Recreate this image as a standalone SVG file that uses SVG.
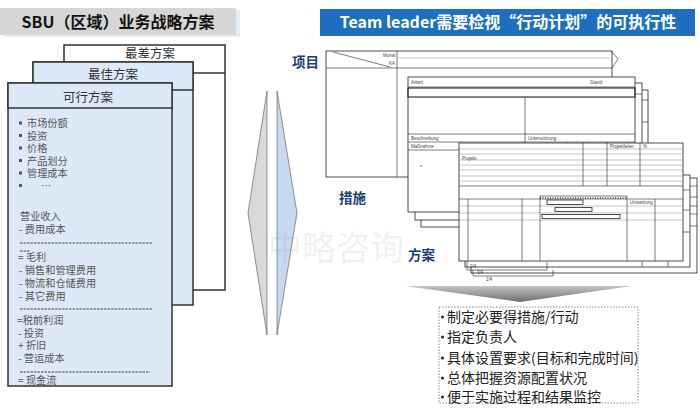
<svg xmlns="http://www.w3.org/2000/svg" width="700" height="416" viewBox="0 0 700 416">
<defs>
<style>
.cn{font-family:"Noto Sans CJK SC","Noto Sans",sans-serif}
.body{font-family:"Noto Sans CJK SC",sans-serif;font-size:10.2px;fill:#555}
.hd{font-family:"Noto Sans CJK SC",sans-serif;font-size:12.5px;fill:#333;text-anchor:middle}
.lbl{font-family:"Noto Sans CJK SC",sans-serif;font-size:13.5px;font-weight:bold;fill:#1b3f73}
.bul{font-family:"Noto Sans CJK SC",sans-serif;font-size:14px;fill:#222}
.card{stroke:#333;stroke-width:1.5}
.f{fill:#fff;stroke:#222;stroke-width:0.8}
.ln{stroke:#222;stroke-width:0.6;fill:none}
.tl{stroke:#888;stroke-width:0.5;fill:none}
.tiny{font-family:"Liberation Sans",sans-serif;font-size:4.5px;fill:#444}
.dash{stroke:#444;stroke-width:1;stroke-dasharray:2.5,1}
.sq{fill:#555}
.dot{fill:#333}
</style>
<linearGradient id="arr" x1="0" y1="0" x2="0" y2="1">
<stop offset="0" stop-color="#c4c4c4"/>
<stop offset="1" stop-color="#6e6e6e"/>
</linearGradient>
</defs>
<rect width="700" height="416" fill="#fff"/>

<!-- left title -->
<g id="left-title">
<rect x="4" y="10" width="236" height="27" fill="#e4eef8"/>
<rect x="0" y="8" width="236" height="27" fill="#d6d6d6"/>
<text x="118" y="27.5" class="cn" font-size="16" font-weight="bold" fill="#111" text-anchor="middle">SBU（区域）业务战略方案</text>
</g>

<!-- cards -->
<g id="card-worst">
<rect x="64" y="45" width="161" height="245" fill="#fff" class="card"/>
<line x1="64" y1="73" x2="225" y2="73" class="card"/>
<text x="150" y="58" class="hd">最差方案</text>
</g>
<g id="card-best">
<rect x="33" y="62" width="160" height="243" fill="#dde9f7" class="card"/>
<rect x="33" y="62" width="160" height="28" fill="#dbe9f9" class="card"/>
<text x="113" y="78.5" class="hd">最佳方案</text>
</g>
<g id="card-feasible">
<rect x="8" y="83" width="164" height="303" fill="#dde9f7" class="card"/>
<rect x="8" y="83" width="164" height="25" fill="#dbe9f9" class="card"/>
<text x="88" y="102" class="hd">可行方案</text>
<rect x="19" y="121.5" width="3" height="3" class="sq"/>
<rect x="19" y="134" width="3" height="3" class="sq"/>
<rect x="19" y="146.5" width="3" height="3" class="sq"/>
<rect x="19" y="159" width="3" height="3" class="sq"/>
<rect x="19" y="171.5" width="3" height="3" class="sq"/>
<rect x="19" y="184" width="3" height="3" class="sq"/>
<g class="body">
<text x="27" y="127">市场份额</text>
<text x="27" y="139.5">投资</text>
<text x="27" y="152">价格</text>
<text x="27" y="164.5">产品划分</text>
<text x="27" y="177">管理成本</text>
<text x="41" y="189.5">…</text>
<text x="20" y="220">营业收入</text>
<text x="19" y="233">- 费用成本</text>
<text x="18" y="261">= 毛利</text>
<text x="19" y="274">- 销售和管理费用</text>
<text x="19" y="287">- 物流和仓储费用</text>
<text x="19" y="300">- 其它费用</text>
<text x="17" y="324">=税前利润</text>
<text x="18" y="336.5">- 投资</text>
<text x="18" y="349">+ 折旧</text>
<text x="18" y="361.5">- 营运成本</text>
<text x="18" y="383.5">= 现金流</text>
</g>
<line x1="20" y1="243" x2="153" y2="243" class="dash"/>
<line x1="20" y1="309" x2="152" y2="309" class="dash"/>
<line x1="20" y1="372" x2="150" y2="372" class="dash"/>
<line x1="20" y1="251" x2="30" y2="251" class="dash"/>
</g>

<!-- middle diamonds -->
<g id="diamonds">
<polygon points="267,91 248,213 267,335" fill="#d9d9d9" stroke="#666" stroke-width="0.7"/>
<polygon points="277,91 297,213 277,335" fill="#c6d9f0" stroke="#666" stroke-width="0.7"/>
</g>

<!-- right title -->
<g id="right-title">
<rect x="320" y="9" width="375" height="27" fill="#1e6fbf"/>
<text x="508" y="28" class="cn" font-size="16" font-weight="bold" fill="#fff" text-anchor="middle">Team leader需要检视“行动计划”的可执行性</text>
</g>

<!-- watermark -->
<text x="268" y="260" class="cn" font-size="34" fill="#888" fill-opacity="0.13">中略咨询</text>

<!-- labels -->
<g id="labels">
<text x="292" y="67" class="lbl">项目</text>
<text x="339" y="203" class="lbl">措施</text>
<text x="408" y="260" class="lbl">方案</text>
</g>

<!-- forms -->
<g id="form-project">
<rect x="326" y="51" width="286" height="126" class="f"/>
<line x1="326" y1="68" x2="612" y2="68" class="ln" stroke-width="1"/>
<line x1="397" y1="51" x2="397" y2="177" class="ln" stroke-width="1"/>
<line x1="397" y1="58" x2="610" y2="58" class="tl"/>
<line x1="333" y1="52" x2="390" y2="67" class="ln"/>
<polyline points="611,51 618,59 612,68" class="ln" fill="#fff"/>
<text x="383" y="57" class="tiny">Monat</text>
<text x="389" y="65" class="tiny">KA</text>
</g>

<g id="form-action">
<rect x="421" y="90" width="227" height="137" class="f"/>
<rect x="415" y="83" width="227" height="137" class="f"/>
<rect x="408" y="77" width="227" height="135" class="f"/>
<line x1="408" y1="87" x2="635" y2="87" class="ln"/>
<rect x="408" y="88" width="227" height="9" fill="none" stroke="#222" stroke-width="1.1"/>
<line x1="525" y1="97" x2="525" y2="150" class="ln"/>
<line x1="408" y1="134" x2="635" y2="134" class="ln"/>
<line x1="408" y1="142" x2="635" y2="142" class="ln"/>
<line x1="408" y1="150" x2="635" y2="150" class="ln"/>
<g class="ln"><line x1="547" y1="142" x2="547" y2="146"/><line x1="567" y1="142" x2="567" y2="146"/><line x1="587" y1="142" x2="587" y2="146"/><line x1="607" y1="142" x2="607" y2="146"/><line x1="627" y1="142" x2="627" y2="146"/></g>
<text x="411" y="84" class="tiny">Arbeit:</text>
<text x="590" y="84" class="tiny">Stand:</text>
<text x="411" y="139.5" class="tiny">Beschreibung:</text>
<text x="528" y="139.5" class="tiny">Unterstützung:</text>
<text x="411" y="147.5" class="tiny">Maßnahme</text>
<line x1="420" y1="166" x2="422" y2="166" class="ln"/>
<g class="ln"><line x1="635" y1="94" x2="642" y2="94"/><line x1="642" y1="100" x2="648" y2="100"/><line x1="642" y1="122" x2="648" y2="122"/></g>
</g>

<g id="form-measure">
<rect x="471" y="178" width="226" height="95" class="f"/>
<rect x="465" y="175" width="225" height="92" class="f"/>
<g class="ln"><line x1="690" y1="186" x2="697" y2="186"/><line x1="690" y1="197" x2="697" y2="197"/><line x1="690" y1="206" x2="697" y2="206"/><line x1="690" y1="214" x2="697" y2="214"/><line x1="690" y1="226" x2="697" y2="226"/><line x1="683" y1="190" x2="690" y2="190"/><line x1="683" y1="210" x2="690" y2="210"/><line x1="683" y1="232" x2="690" y2="232"/></g>
<rect x="459" y="143" width="224" height="118" class="f"/>
<g class="tl">
<line x1="459" y1="149" x2="683" y2="149"/><line x1="459" y1="154" x2="683" y2="154"/>
<line x1="459" y1="160" x2="683" y2="160"/><line x1="459" y1="165" x2="683" y2="165"/>
<line x1="459" y1="170" x2="683" y2="170"/><line x1="459" y1="176" x2="683" y2="176"/>
<line x1="459" y1="181" x2="683" y2="181"/>
</g>
<line x1="459" y1="186" x2="683" y2="186" class="ln" stroke-width="1"/>
<line x1="583" y1="143" x2="583" y2="186" class="ln"/>
<line x1="607" y1="143" x2="607" y2="186" class="ln"/>
<line x1="640" y1="143" x2="640" y2="186" class="ln"/>
<line x1="540" y1="196" x2="627" y2="196" class="ln"/>
<line x1="540" y1="198" x2="627" y2="198" stroke="#444" stroke-width="1.5" stroke-dasharray="1,1.5"/>
<line x1="459" y1="199" x2="683" y2="199" class="ln"/>
<line x1="459" y1="206" x2="683" y2="206" class="tl"/>
<line x1="459" y1="213" x2="683" y2="213" class="tl"/>
<line x1="459" y1="220" x2="683" y2="220" class="tl"/>
<g class="ln">
<line x1="468" y1="199" x2="468" y2="261"/>
<line x1="522" y1="199" x2="522" y2="261"/>
<line x1="540" y1="196" x2="540" y2="261"/>
<line x1="627" y1="196" x2="627" y2="261"/>
<line x1="655" y1="199" x2="655" y2="261"/>
</g>
<rect x="547" y="200" width="36" height="4.5" fill="#fff" stroke="#222" stroke-width="0.8"/>
<rect x="555" y="207.5" width="37" height="4" fill="#fff" stroke="#222" stroke-width="0.8"/>
<rect x="542" y="214.5" width="78" height="4" fill="#fff" stroke="#222" stroke-width="0.8"/>
<text x="462" y="160" class="tiny" font-size="3.5">Projekt:</text>
<text x="610" y="148" class="tiny" font-size="3.5">Projektleiter</text>
<text x="643" y="148" class="tiny" font-size="3.5">%</text>
<text x="630" y="204" class="tiny" font-size="3.5">Umsetzung</text>
<g class="ln">
<polyline points="467,261 467,270 547,270 547,262"/>
<polyline points="473,270 473,276 553,276 553,270"/>
<line x1="642" y1="261" x2="642" y2="267"/>
<line x1="668" y1="261" x2="668" y2="267"/>
</g>
<text x="470" y="268" class="tiny" font-size="3.5">2/4</text>
<text x="477" y="274" class="tiny" font-size="3.5">3/4</text>
<text x="486" y="281" class="tiny" font-size="3.5">2/4</text>
</g>

<!-- down arrow -->
<g id="down-arrow">
<polygon points="405,286 632,286 520,302" fill="url(#arr)"/>
</g>

<!-- bullet list -->
<g id="action-list">
<rect x="439" y="307" width="199" height="96" fill="none" stroke="#888" stroke-width="1" stroke-dasharray="1.5,1.5"/>
<circle cx="442.5" cy="317" r="1.6" class="dot"/>
<circle cx="442.5" cy="337" r="1.6" class="dot"/>
<circle cx="442.5" cy="358" r="1.6" class="dot"/>
<circle cx="442.5" cy="378" r="1.6" class="dot"/>
<circle cx="442.5" cy="397" r="1.6" class="dot"/>
<g class="bul">
<text x="447" y="322">制定必要得措施/行动</text>
<text x="447" y="342">指定负责人</text>
<text x="447" y="363">具体设置要求(目标和完成时间)</text>
<text x="447" y="383">总体把握资源配置状况</text>
<text x="447" y="402">便于实施过程和结果监控</text>
</g>
</g>
</svg>
